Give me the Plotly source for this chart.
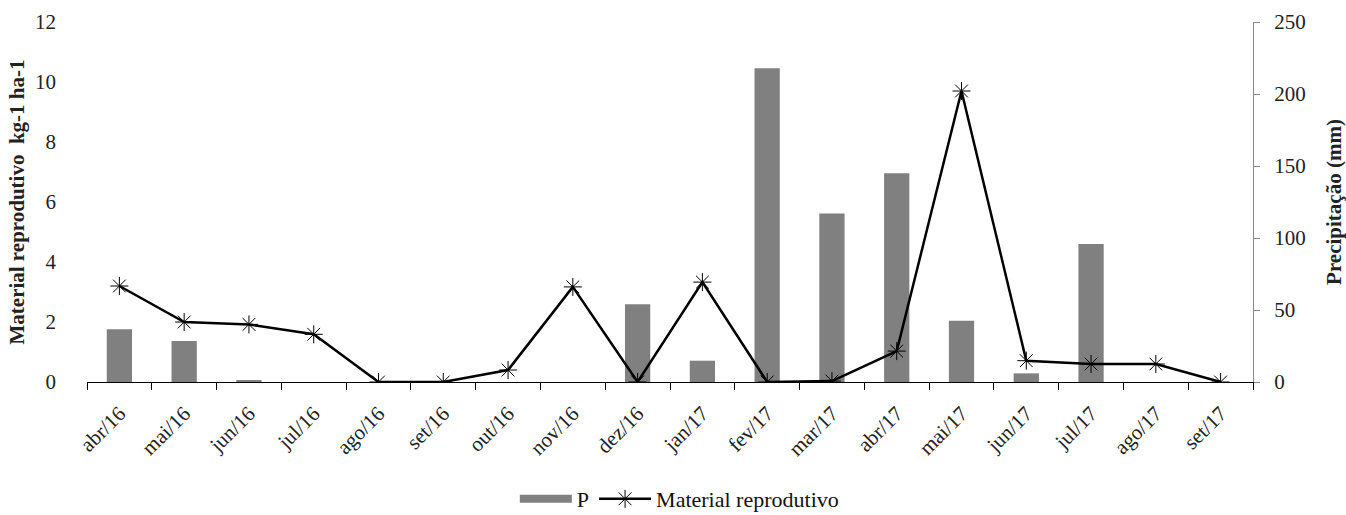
import plotly.graph_objects as go

months = ["abr/16", "mai/16", "jun/16", "jul/16", "ago/16", "set/16", "out/16", "nov/16",
          "dez/16", "jan/17", "fev/17", "mar/17", "abr/17", "mai/17", "jun/17", "jul/17",
          "ago/17", "set/17"]
precip = [36.6, 28.5, 1.0, 0, 0, 0, 0, 0, 54, 14.8, 217.8, 117, 145, 42.6, 6, 95.8, 0, 0]
material = [3.2, 2.0, 1.92, 1.59, 0, 0, 0.4, 3.17, 0, 3.33, 0, 0.03, 1.03, 9.7, 0.71, 0.6, 0.6, 0]

font = "Liberation Serif"
fs = 21
bar_color = "#808080"

fig = go.Figure()
fig.add_trace(go.Bar(x=months, y=precip, name="P", marker=dict(color=bar_color, line=dict(width=0)),
                     yaxis="y", showlegend=False))
# legend entry for bars drawn as a wide gray rectangle (as in the original)
fig.add_trace(go.Scatter(x=[None], y=[None], name="P", mode="lines",
                         line=dict(color=bar_color, width=8), yaxis="y"))
fig.add_trace(go.Scatter(x=months, y=material, name="Material reprodutivo", mode="lines+markers",
                         line=dict(color="black", width=2.5),
                         marker=dict(symbol="asterisk-open", size=15, color="black",
                                     line=dict(color="#111", width=1)),
                         yaxis="y2"))

plot_top, plot_bottom, H = 22, 382, 515

fig.update_layout(
    width=1346, height=H,
    margin=dict(l=87, r=93, t=plot_top, b=H - plot_bottom, autoexpand=False),
    paper_bgcolor="white", plot_bgcolor="white",
    font=dict(family=font, size=fs, color="#222"),
    bargap=0.61,
    showlegend=True,
    legend=dict(orientation="h", x=0.508, xanchor="center",
                yref="container", y=(H - 499) / H, yanchor="middle",
                font=dict(size=22, family=font, color="#111"), traceorder="normal",
                itemwidth=52),
    xaxis=dict(type="category", range=[-0.5, 17.5], showline=True, linecolor="black", linewidth=1,
               ticks="outside", tickson="boundaries", ticklen=7, tickcolor="black",
               tickangle=-45, showgrid=False, tickfont=dict(size=fs, family=font),
               ticklabelstandoff=10, automargin=False),
    yaxis=dict(side="right", range=[0, 250], dtick=50, showgrid=False, zeroline=False,
               showline=True, linecolor="#888", ticks="outside", ticklen=6, tickcolor="#888",
               ticklabelstandoff=10,
               title=dict(text="<b>Precipitação (mm)</b>", font=dict(size=fs, family=font),
                          standoff=28),
               tickfont=dict(size=fs, family=font), automargin=False),
    yaxis2=dict(side="left", overlaying="y", range=[0, 12], dtick=2, showgrid=False,
                zeroline=False, showline=False, ticks="", ticklabelstandoff=30,
                title=dict(text="<b>Material reprodutivo  kg-1 ha-1</b>", font=dict(size=fs, family=font),
                           standoff=4),
                tickfont=dict(size=fs, family=font), automargin=False),
)

fig.write_html("out.html")
